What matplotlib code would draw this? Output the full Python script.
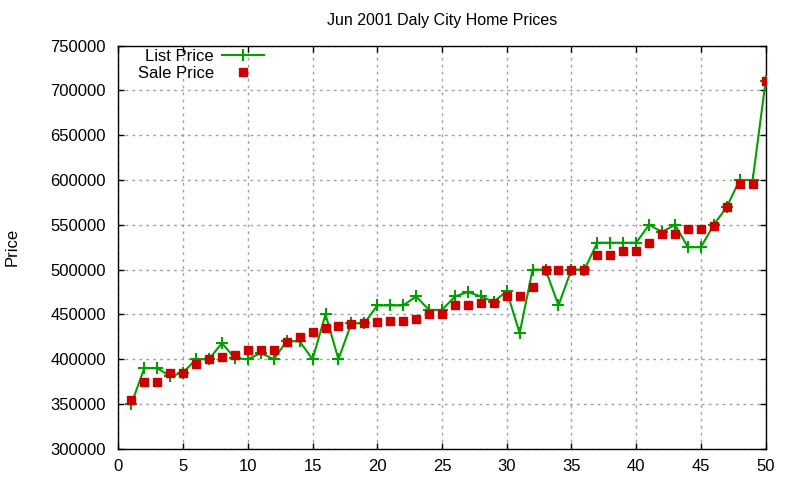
import matplotlib
matplotlib.use("Agg")
import matplotlib.pyplot as plt
import numpy as np

plt.rcParams['font.family'] = ['Liberation Sans', 'DejaVu Sans']

# listing index 1..50
idx = np.arange(1, 51)

list_price = [350000, 390000, 390000, 381000, 385000, 400000, 400000, 418000, 401000, 400000,
              407000, 400000, 420000, 420000, 400000, 450000, 400000, 440000, 440000, 460000,
              460000, 460000, 470000, 455000, 455000, 470000, 475000, 470000, 464000, 476000,
              429000, 500000, 500000, 460000, 500000, 500000, 530000, 530000, 530000, 530000,
              550000, 542000, 550000, 525000, 525000, 550000, 570000, 600000, 600000, 710000]

sale_price = [355000, 375000, 375000, 385000, 385000, 395000, 400000, 402000, 405000, 410000,
              410000, 410000, 419000, 425000, 430000, 435000, 437000, 439000, 440000, 442000,
              443000, 443000, 445000, 451000, 451000, 461000, 461000, 463000, 463000, 471000,
              471000, 481000, 500000, 500000, 500000, 500000, 516000, 516000, 521000, 521000,
              530000, 540000, 540000, 545000, 545000, 549000, 570000, 596000, 596000, 710000]

xticks = [0, 5, 10, 15, 20, 25, 30, 35, 40, 45, 50]
yticks = [300000, 350000, 400000, 450000, 500000, 550000, 600000, 650000, 700000, 750000]

fig = plt.figure(figsize=(8, 4.8), dpi=100)
ax = fig.add_axes([0.148, 0.065, 0.809, 0.840])

ax.plot(idx, list_price, color='#00a000', lw=1.5, marker='+', ms=8, mew=1.5,
        label='List Price', zorder=3)
ax.plot(idx, sale_price, ls='none', color='#cc0000', marker='s', ms=5.5,
        label='Sale Price', zorder=4)

ax.set_xlim(0, 50)
ax.set_ylim(300000, 750000)
ax.set_xticks(xticks)
ax.set_yticks(yticks)
ax.ticklabel_format(style='plain', useOffset=False)
ax.tick_params(direction='in', length=4, width=1, top=True, right=True,
               labelsize=12, pad=7, colors='black')
ax.tick_params(axis='y', pad=9)
ax.grid(True, color='#a0a0a0', lw=1, ls=(0, (2, 3)))
for s in ax.spines.values():
    s.set_linewidth(1)

ax.set_title('Jun 2001 Daly City Home Prices', fontsize=11.5, pad=15)
ax.set_ylabel('Price', fontsize=12)
ax.yaxis.set_label_coords(-0.152, 0.5)

ax.legend(loc='upper right', bbox_to_anchor=(0.23, 1.0), frameon=False, fontsize=12,
          markerfirst=False, numpoints=1, handlelength=2.5, handletextpad=0.5,
          labelspacing=0.12, borderpad=0.2, borderaxespad=0)

fig.savefig('out.png', dpi=100)
